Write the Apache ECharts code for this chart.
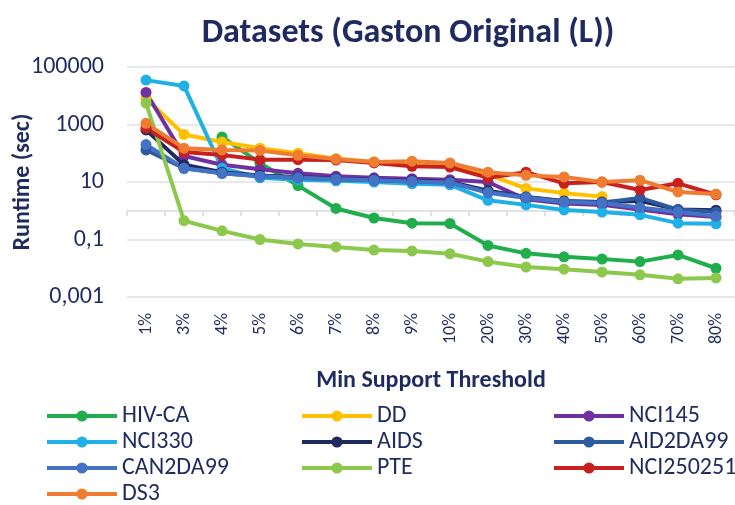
<!DOCTYPE html>
<html>
<head>
<meta charset="utf-8">
<script src="https://cdn.jsdelivr.net/npm/echarts@6/dist/echarts.min.js"></script>
<style>
  html, body { margin: 0; padding: 0; background: #fff; }
  #chart { width: 735px; height: 505px; }
</style>
</head>
<body>
<div id="chart"></div>
<script>
// 类目（最小支持度）
const categories = ["1%", "3%", "4%", "5%", "6%", "7%", "8%", "9%", "10%", "20%", "30%", "40%", "50%", "60%", "70%", "80%"];

// 各数据集运行时间 (sec)，"-" 表示无数据
const hivCA     = ["-", "-", 370, 45, 7.5, 1.2, 0.56, 0.37, 0.36, 0.062, 0.033, 0.025, 0.021, 0.017, 0.029, 0.01];
const dd        = [8000, 450, 245, 150, 100, 65, 50, 48, 42, 18, 6, 4.1, 3.1, "-", "-", "-"];
const nci145    = [13000, 80, 40, 28, 20, 16, 14, 13, 12, 10, 2.5, 1.8, 1.6, 1.1, 0.75, 0.6];
const nci330    = [35000, 22000, 30, 14, 12, 11, 10, 8.7, 8, 2.3, 1.6, 1.07, 0.9, 0.72, 0.37, 0.35];
const aids      = [650, 40, 22, 17, 15, 13, 12, 11, 10, 5, 3, 2.2, 2, 2.2, 1.1, 1.05];
const aid2da99  = [130, 30, 20, 16, 14, 12.5, 11.5, 10.5, 9.5, 4.5, 3, 2.1, 1.9, 2.8, 1.1, 0.9];
const can2da99  = [200, 30, 20, 16, 14, 12.5, 11.5, 10.5, 9.5, 4.2, 2.8, 2.0, 1.85, 1.3, 0.9, 0.65];
const pte       = [5600, 0.45, 0.2, 0.1, 0.07, 0.055, 0.043, 0.04, 0.032, 0.017, 0.011, 0.0093, 0.0074, 0.0059, 0.0043, 0.0046];
const nci250251 = [750, 110, 87, 60, 60, 58, 46, 35, 33, 14, 22, 9, 10, 5.3, 9, 3.6];
const ds3       = [1100, 150, 130, 125, 85, 63, 50, 53, 46, 22, 17, 15, 10, 11.5, 4.5, 3.8];

// y 轴刻度
const yTicks = [0.001, 0.1, 10, 1000, 100000];

const seriesList = [
  { name: "HIV-CA", data: hivCA, color: "#1fae4b" },
  { name: "DD", data: dd, color: "#ffc000" },
  { name: "NCI145", data: nci145, color: "#7030a0" },
  { name: "NCI330", data: nci330, color: "#1fb0e6" },
  { name: "AIDS", data: aids, color: "#1f2a5e" },
  { name: "AID2DA99", data: aid2da99, color: "#2e5aa0" },
  { name: "CAN2DA99", data: can2da99, color: "#4472c4" },
  { name: "PTE", data: pte, color: "#8cc84b" },
  { name: "NCI250251", data: nci250251, color: "#c8201f" },
  { name: "DS3", data: ds3, color: "#ee7d31" }
];

const textColor = "#1f2a5e";
const font = "Carlito, 'Open Sans', sans-serif";

const legendBase = {
  orient: "vertical",
  top: 404,
  height: 120,
  padding: 0,
  itemWidth: 70,
  itemHeight: 14,
  itemGap: 2,
  lineStyle: { width: 4 },
  textStyle: { color: textColor, fontSize: 24, fontFamily: font, lineHeight: 24 }
};

const chart = echarts.init(document.getElementById("chart"));
chart.setOption({
  animation: false,
  color: seriesList.map(s => s.color),
  title: {
    text: "Datasets (Gaston Original (L))",
    left: 403,
    textAlign: "center",
    top: 11,
    textStyle: { color: textColor, fontSize: 34, fontWeight: "bold", fontFamily: font }
  },
  legend: [
    Object.assign({ left: 45, data: ["HIV-CA", "NCI330", "CAN2DA99", "DS3"] }, legendBase),
    Object.assign({ left: 300, data: ["DD", "AIDS", "PTE"] }, legendBase),
    Object.assign({ left: 552, data: ["NCI145", "AID2DA99", "NCI250251"] }, legendBase)
  ],
  grid: { left: 127, right: 0, top: 67, bottom: 208, containLabel: false, outerBoundsMode: "none" },
  xAxis: [
    {
      type: "category",
      data: categories,
      name: "Min Support Threshold",
      nameLocation: "middle",
      nameGap: 72,
      nameMoveOverlap: false,
      nameTextStyle: { color: textColor, fontSize: 24, fontWeight: "bold", fontFamily: font },
      axisLine: { show: false },
      axisTick: { show: false },
      axisLabel: { rotate: 90, margin: 16, color: textColor, fontSize: 18, fontFamily: font, interval: 0 }
    },
    {
      // 在值为 1 处的横轴线
      type: "category",
      data: categories,
      position: "bottom",
      offset: -86,
      axisLine: { show: true, lineStyle: { color: "#d9d9d9", width: 1.5 } },
      axisTick: { show: true, length: 5, lineStyle: { color: "#d9d9d9", width: 1.5 } },
      axisLabel: { show: false }
    }
  ],
  yAxis: {
    type: "log",
    logBase: 10,
    min: yTicks[0],
    max: yTicks[yTicks.length - 1],
    interval: 2,
    name: "Runtime (sec)",
    nameLocation: "middle",
    nameGap: 92,
    nameMoveOverlap: false,
    nameTextStyle: { color: textColor, fontSize: 24, fontWeight: "bold", fontFamily: font },
    axisLine: { show: false },
    axisTick: { show: false },
    axisLabel: {
      color: textColor,
      fontSize: 24,
      fontFamily: font,
      margin: 23,
      formatter: v => String(Number(v.toPrecision(6))).replace(".", ",")
    },
    splitLine: { show: true, lineStyle: { color: "#dde2e9", width: 1.5 } }
  },
  series: seriesList.map(s => ({
    name: s.name,
    type: "line",
    xAxisIndex: 0,
    data: s.data,
    symbol: "circle",
    symbolSize: 11,
    lineStyle: { width: 4, color: s.color },
    itemStyle: { color: s.color }
  }))
});
</script>
</body>
</html>
